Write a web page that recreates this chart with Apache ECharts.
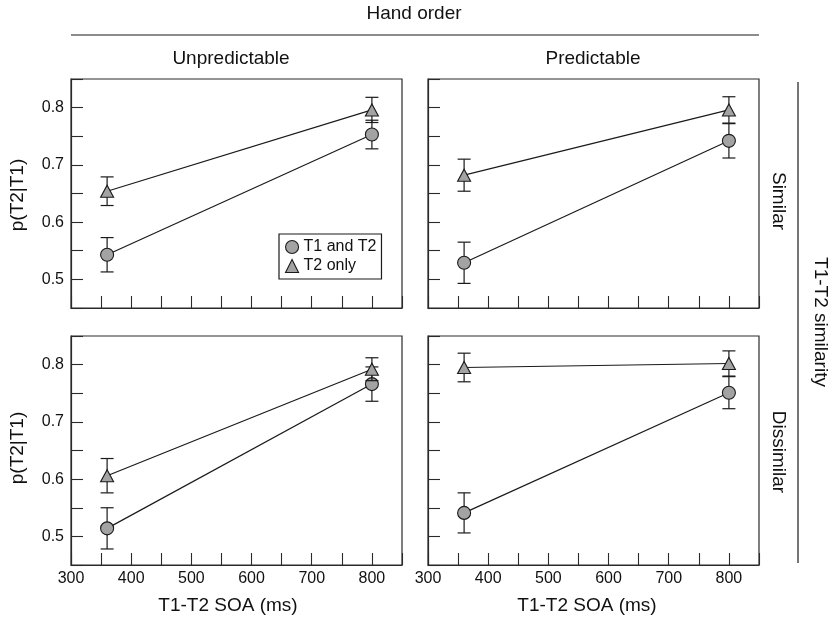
<!DOCTYPE html>
<html>
<head>
<meta charset="utf-8">
<script src="https://cdn.jsdelivr.net/npm/echarts@6/dist/echarts.min.js"></script>
<style>
  html, body { margin: 0; padding: 0; background: #fff; }
  #chart { width: 832px; height: 618px; }
</style>
</head>
<body>
<div id="chart"></div>
<script>
  // SOA levels (ms)
  const soa = [360, 800];
  // panel order: Unpredictable/Similar, Predictable/Similar, Unpredictable/Dissimilar, Predictable/Dissimilar
  const handOrder = ['Unpredictable', 'Predictable'];
  const similarity = ['Similar', 'Dissimilar'];
  // T1 and T2 correct
  const bothMean = [[0.543, 0.753], [0.529, 0.742], [0.514, 0.766], [0.541, 0.751]];
  const bothErr = [[0.030, 0.025], [0.036, 0.030], [0.036, 0.030], [0.035, 0.028]];
  // T2 only
  const t2Mean = [[0.654, 0.796], [0.682, 0.796], [0.606, 0.792], [0.795, 0.802]];
  const t2Err = [[0.025, 0.022], [0.028, 0.023], [0.030, 0.020], [0.025, 0.022]];
  const seriesNames = ['T1 and T2', 'T2 only'];

  const FONT = '"Liberation Sans", Arial, sans-serif';
  const INK = '#1a1a1a';
  const FILL = '#a3a3a3';

  const gridPos = [[71, 79], [428, 79], [71, 336], [428, 336]];

  let myChart = echarts.init(document.getElementById('chart'));

  function errData(mean, err) {
    return soa.map(function (x, i) {
      return [x, mean[i] - err[i], mean[i] + err[i]];
    });
  }

  function renderErr(params, api) {
    const x = api.value(0);
    const lo = api.coord([x, api.value(1)]);
    const hi = api.coord([x, api.value(2)]);
    const w = 6.5;
    const st = {stroke: INK, lineWidth: 1.2};
    return {
      type: 'group',
      children: [
        {type: 'line', shape: {x1: lo[0], y1: lo[1], x2: hi[0], y2: hi[1]}, style: st},
        {type: 'line', shape: {x1: lo[0] - w, y1: lo[1], x2: lo[0] + w, y2: lo[1]}, style: st},
        {type: 'line', shape: {x1: hi[0] - w, y1: hi[1], x2: hi[0] + w, y2: hi[1]}, style: st}
      ]
    };
  }

  let grids = [], xAxes = [], yAxes = [], series = [];
  gridPos.forEach(function (p, g) {
    grids.push({
      left: p[0], top: p[1], width: 331, height: 229,
      show: true, borderColor: '#2a2a2a', borderWidth: 1.2, containLabel: false
    });
    xAxes.push({
      type: 'value', gridIndex: g, min: 300, max: 850, interval: 50,
      axisLine: {show: true, lineStyle: {color: '#2a2a2a', width: 1.2}},
      axisTick: {inside: true, length: 12, lineStyle: {color: '#2a2a2a', width: 1.1}},
      splitLine: {show: false},
      axisLabel: {
        show: g >= 2, margin: 6, fontSize: 16, color: '#111', fontFamily: FONT,
        formatter: function (v) { return (v % 100 === 0 && v < 850) ? String(v) : ''; }
      }
    });
    yAxes.push({
      type: 'value', gridIndex: g, min: 0.45, max: 0.85, interval: 0.05,
      axisLine: {show: true, lineStyle: {color: '#2a2a2a', width: 1.2}},
      axisTick: {inside: true, length: 12, lineStyle: {color: '#2a2a2a', width: 1.1}},
      splitLine: {show: false},
      axisLabel: {
        show: g % 2 === 0, margin: 7, fontSize: 16, color: '#111', fontFamily: FONT,
        formatter: function (v) {
          const k = Math.round(v * 100);
          return (k % 10 === 0) ? (k / 100).toFixed(1) : '';
        }
      }
    });

    const groups = [[bothMean, bothErr, 'circle', 13], [t2Mean, t2Err, 'triangle', [13, 12]]];
    groups.forEach(function (grp, s) {
      series.push({
        name: seriesNames[s] + ' err', type: 'custom', xAxisIndex: g, yAxisIndex: g,
        data: errData(grp[0][g], grp[1][g]), renderItem: renderErr,
        encode: {x: 0, y: [1, 2]}, z: 2 + s * 2, silent: true
      });
      series.push({
        name: seriesNames[s], type: 'line', xAxisIndex: g, yAxisIndex: g,
        data: soa.map(function (x, i) { return [x, grp[0][g][i]]; }),
        symbol: grp[2], symbolSize: grp[3], showSymbol: true,
        lineStyle: {color: INK, width: 1.2},
        itemStyle: {color: FILL, borderColor: INK, borderWidth: 1.1},
        z: 3 + s * 2
      });
    });
  });

  function label(text, x, y, rot, size) {
    return {
      type: 'text', x: x, y: y, rotation: rot || 0, silent: true,
      style: {
        text: text, x: 0, y: 0, align: 'center', verticalAlign: 'middle',
        fontSize: size || 19, fontFamily: FONT, fill: '#111'
      }
    };
  }

  let graphics = [
    label('Hand order', 414, 14),
    {type: 'line', shape: {x1: 71, y1: 35, x2: 759, y2: 35}, style: {stroke: INK, lineWidth: 1.2}},
    label(handOrder[0], 231, 59),
    label(handOrder[1], 593, 59),
    label(similarity[0], 778, 201, -Math.PI / 2),
    label(similarity[1], 778, 452, -Math.PI / 2),
    {type: 'line', shape: {x1: 798, y1: 82, x2: 798, y2: 563}, style: {stroke: INK, lineWidth: 1.2}},
    label('T1-T2 similarity', 820, 322, -Math.PI / 2),
    label('p(T2|T1)', 18, 195, Math.PI / 2),
    label('p(T2|T1)', 18, 448, Math.PI / 2),
    label('T1-T2 SOA (ms)', 228, 606),
    label('T1-T2 SOA (ms)', 587, 606)
  ];

  let option = {
    backgroundColor: '#fff',
    animation: false,
    grid: grids,
    xAxis: xAxes,
    yAxis: yAxes,
    legend: {
      orient: 'vertical', left: 279, top: 234,
      data: [{name: seriesNames[0], icon: 'circle'}, {name: seriesNames[1], icon: 'triangle'}],
      itemWidth: 13, itemHeight: 13, itemGap: 3,
      padding: [5, 5, 5, 6],
      borderColor: INK, borderWidth: 1.2, borderRadius: 0,
      backgroundColor: '#fff',
      selectedMode: false,
      itemStyle: {color: FILL, borderColor: INK, borderWidth: 1.1},
      textStyle: {fontSize: 16, color: '#111', fontFamily: FONT}
    },
    graphic: graphics,
    series: series
  };
  myChart.setOption(option);
</script>
</body>
</html>
